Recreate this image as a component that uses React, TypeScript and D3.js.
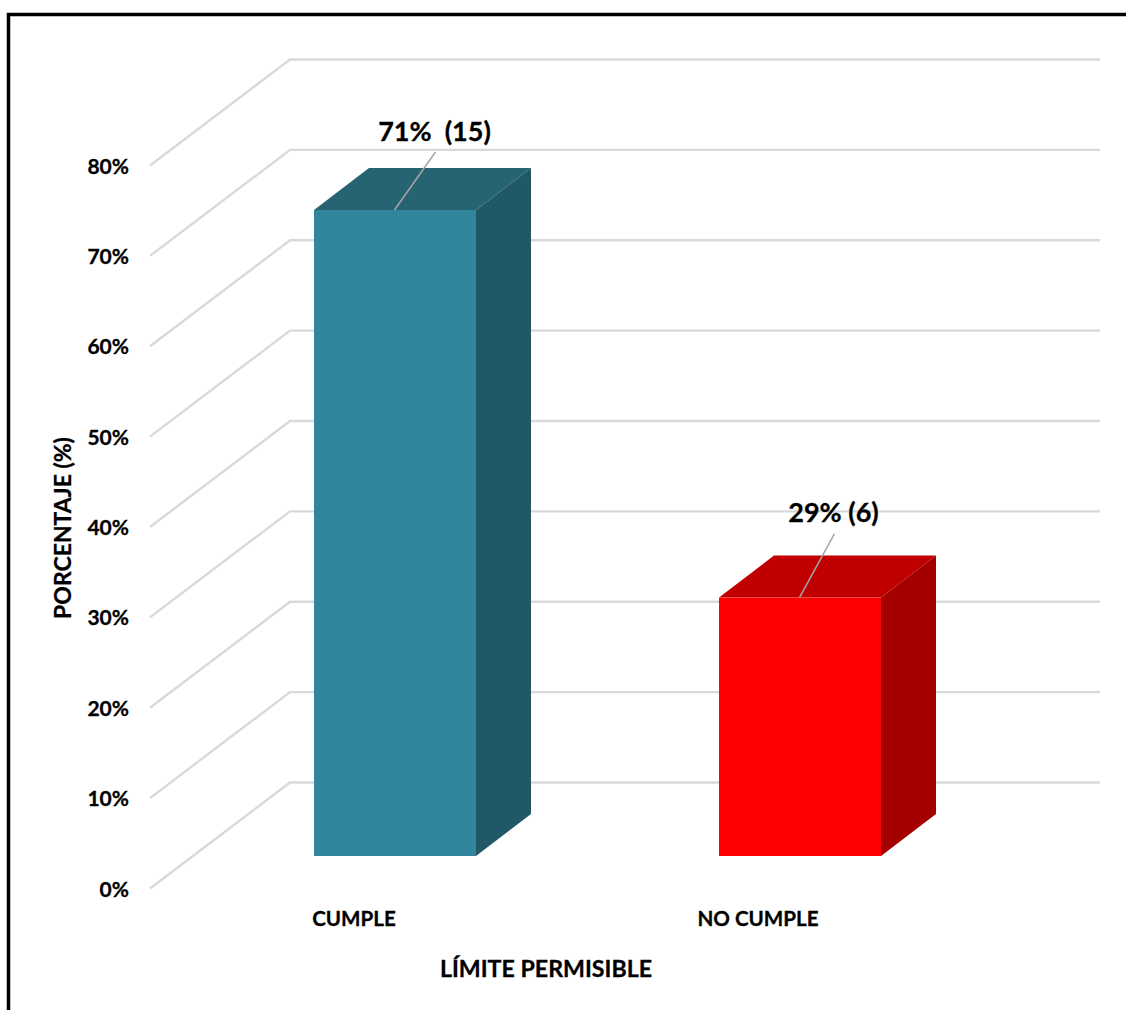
import React from "react";
import * as d3 from "d3";

// Survey results: how many samples comply with the permissible limit.
const categories = ["CUMPLE", "NO CUMPLE"];
const counts = [15, 6];
const percentTicks = [0, 10, 20, 30, 40, 50, 60, 70, 80];

const frontColors = ["#31859c", "#ff0000"];
const topColors = ["#266473", "#c00000"];
const sideColors = ["#215868", "#a50000"];

const WIDTH = 1126;
const HEIGHT = 1010;
const FONT = "Lato, Carlito, 'Open Sans', sans-serif";

// Oblique offset from the front plane of a bar to its back face.
const BAR_DEPTH = { dx: 55, dy: -42 };
// Offset from the floor's front edge to the back wall.
const WALL_DEPTH = { dx: 140, dy: -106 };

export default function App() {
  const total = d3.sum(counts);
  const shares = counts.map((c) => (c / total) * 100);

  const barY = d3.scaleLinear().domain([0, 80]).range([856, 132.5]);
  const wallFrontY = d3.scaleLinear().domain([0, 80]).range([888.5, 165.5]);
  const barX = d3.scaleBand<string>().domain(categories).range([192.5, 1002.5]).paddingInner(0.6).paddingOuter(0.3);

  const wallLeft = 150;
  const wallRight = 1100;

  const labelOffsets = [
    { x: 40, y: -78 },
    { x: 34, y: -85 },
  ];
  const leaderRise = [-58, -64];
  const labelGaps = ["  ", " "];

  return (
    <svg
      width={WIDTH}
      height={HEIGHT}
      viewBox={`0 0 ${WIDTH} ${HEIGHT}`}
      style={{ position: "absolute", left: 0, top: 0, display: "block", background: "#fff" }}
      fontFamily={FONT}
      fontWeight={700}
      stroke="none"
    >
      {/* Chart frame; it runs past the right and bottom edges of the page */}
      <rect x={8.5} y={14.5} width={WIDTH + 20} height={HEIGHT + 20} fill="none" stroke="#000" strokeWidth={3.5} />

      {/* Gridlines folded across the floor and back wall */}
      {percentTicks.map((t) => {
        const y0 = wallFrontY(t);
        const bend = wallLeft + WALL_DEPTH.dx;
        const y1 = y0 + WALL_DEPTH.dy;
        return (
          <polyline
            key={t}
            points={`${wallLeft},${y0} ${bend},${y1} ${wallRight},${y1}`}
            fill="none"
            stroke="#d9d9d9"
            strokeWidth={2.4}
          />
        );
      })}

      {/* Tick labels */}
      {percentTicks.map((t) => (
        <text key={t} x={129} y={wallFrontY(t) + 8} textAnchor="end" fontSize={21} fill="#000" stroke="#000" strokeWidth={0.3}>
          {t}%
        </text>
      ))}

      {/* Bars as oblique boxes: top, side, then front */}
      {categories.map((cat, i) => {
        const x0 = barX(cat)!;
        const x1 = x0 + barX.bandwidth();
        const yTop = barY(shares[i]);
        const yBase = barY(0);
        const { dx, dy } = BAR_DEPTH;
        return (
          <g key={cat}>
            <polygon
              points={`${x0},${yTop} ${x0 + dx},${yTop + dy} ${x1 + dx},${yTop + dy} ${x1},${yTop}`}
              fill={topColors[i]}
            />
            <polygon
              points={`${x1},${yTop} ${x1 + dx},${yTop + dy} ${x1 + dx},${yBase + dy} ${x1},${yBase}`}
              fill={sideColors[i]}
            />
            <rect x={x0} y={yTop} width={x1 - x0} height={yBase - yTop} fill={frontColors[i]} />
          </g>
        );
      })}

      {/* Data labels with leader lines */}
      {categories.map((cat, i) => {
        const cx = barX(cat)! + barX.bandwidth() / 2;
        const yTop = barY(shares[i]);
        const off = labelOffsets[i];
        return (
          <g key={cat}>
            <line
              x1={cx - 0.5}
              y1={yTop}
              x2={cx + off.x + 0.5}
              y2={yTop + leaderRise[i]}
              stroke="#a6a6a6"
              strokeWidth={1.5}
            />
            <text
              x={cx + off.x - 0.5}
              y={yTop + off.y + 9}
              textAnchor="middle"
              fontSize={27}
              fill="#000"
              stroke="#000"
              strokeWidth={0.3}
              style={{ whiteSpace: "pre" }}
            >
              {`${d3.format(".0%")(counts[i] / total)}${labelGaps[i]}(${counts[i]})`}
            </text>
          </g>
        );
      })}

      {/* Category labels */}
      {categories.map((cat, i) => (
        <text key={cat} x={i === 0 ? 354 : 758} y={926} textAnchor="middle" fontSize={20.6} fill="#000" stroke="#000" strokeWidth={0.3}>
          {cat}
        </text>
      ))}

      {/* Axis titles */}
      <text x={546} y={977} textAnchor="middle" fontSize={23.2} fill="#000" stroke="#000" strokeWidth={0.3}>
        LÍMITE PERMISIBLE
      </text>
      <text
        transform="translate(71,528) rotate(-90)"
        textAnchor="middle"
        fontSize={23}
        fill="#000"
        stroke="#000"
        strokeWidth={0.3}
      >
        PORCENTAJE (%)
      </text>
    </svg>
  );
}
